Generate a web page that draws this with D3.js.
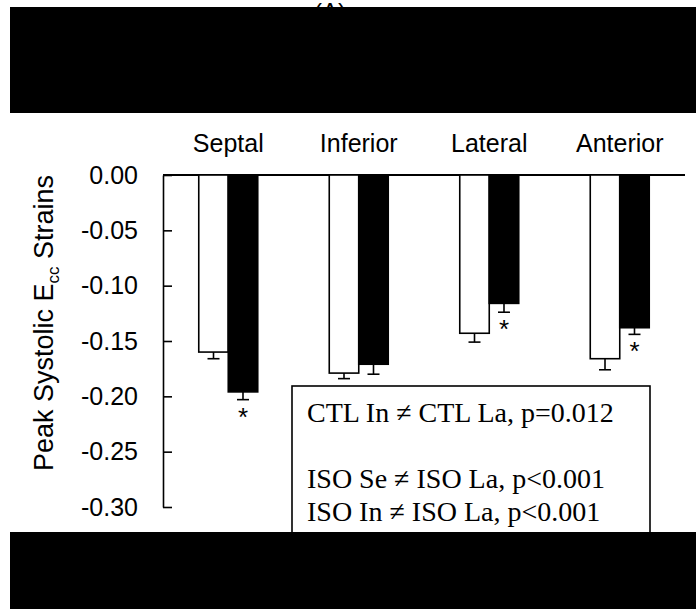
<!DOCTYPE html>
<html>
<head>
<meta charset="utf-8">
<script src="https://cdnjs.cloudflare.com/ajax/libs/d3/7.8.5/d3.min.js"></script>
<style>
  body { margin: 0; background: #fff; }
  svg { display: block; }
</style>
</head>
<body>
<div class="container"></div>
<script>
// regional peak systolic Ecc strains, CTL (white) vs ISO (black)
const regions = ["Septal", "Inferior", "Lateral", "Anterior"];
const ctlMeans = [-0.160, -0.179, -0.143, -0.166];
const ctlErrs = [0.006, 0.005, 0.008, 0.010];
const isoMeans = [-0.196, -0.171, -0.116, -0.138];
const isoErrs = [0.007, 0.009, 0.008, 0.006];
const isoStars = [true, false, true, true];
const yTicks = [0, -0.05, -0.10, -0.15, -0.20, -0.25, -0.30];
const notes = ["CTL In \u2260 CTL La, p=0.012", "", "ISO Se \u2260 ISO La, p<0.001", "ISO In \u2260 ISO La, p<0.001"];

let makeBarChart = function () {
  const w = 696;
  const h = 609;
  const padding = {left: 163, top: 175, right: 11, bottom: 102};

  const xScale = d3.scaleBand()
                   .domain(regions)
                   .range([padding.left, w - padding.right])
                   .padding(0);
  const yScale = d3.scaleLinear()
                   .domain([-0.30, 0])
                   .range([h - padding.bottom, padding.top]);
  const barW = xScale.bandwidth() * 0.226;

  const svg = d3.select(".container")
                .append("svg")
                .attr("width", w)
                .attr("height", h);

  // panel letter, mostly hidden under the top block
  svg.append("text")
     .attr("x", 330)
     .attr("y", 20)
     .attr("text-anchor", "middle")
     .style("font", "24px 'Liberation Sans', Arial, sans-serif")
     .text("(A)");

  const yAxis = d3.axisLeft(yScale)
                  .tickValues(yTicks)
                  .tickFormat(d3.format(".2f"))
                  .tickSizeInner(-9)
                  .tickSizeOuter(0)
                  .tickPadding(25);
  const gy = svg.append("g")
                .attr("transform", "translate(" + padding.left + ",0)") // y axis
                .call(yAxis);
  gy.selectAll("path, line").attr("stroke", "#000").attr("stroke-width", 1.6);
  gy.selectAll("text")
    .attr("fill", "#000")
    .style("font", "25px 'Liberation Sans', Arial, sans-serif")
    .text(d => d3.format(".2f")(d).replace("\u2212", "-"));

  // zero line across the top
  svg.append("line")
     .attr("x1", padding.left)
     .attr("x2", w - padding.right)
     .attr("y1", yScale(0))
     .attr("y2", yScale(0))
     .attr("stroke", "#000")
     .attr("stroke-width", 1.8);

  // category labels above the plot
  svg.selectAll(".cat")
     .data(regions)
     .enter()
     .append("text")
     .attr("class", "cat")
     .attr("x", d => xScale(d) + xScale.bandwidth() / 2)
     .attr("y", 152)
     .attr("text-anchor", "middle")
     .style("font", "25px 'Liberation Sans', Arial, sans-serif")
     .text(d => d);

  // y axis title
  const title = svg.append("text")
                   .attr("transform", "translate(53," + 323 + ") rotate(-90)")
                   .attr("text-anchor", "middle")
                   .style("font", "27px 'Liberation Sans', Arial, sans-serif");
  title.append("tspan").text("Peak Systolic E");
  title.append("tspan").attr("dy", 6).style("font-size", "17px").text("cc");
  title.append("tspan").attr("dy", -6).text(" Strains");

  const series = [
    {means: ctlMeans, errs: ctlErrs, fill: "#fff", off: -1},
    {means: isoMeans, errs: isoErrs, fill: "#000", off: 0}
  ];

  series.forEach(s => {
    const g = svg.append("g");
    const rows = regions.map((r, i) => ({r: r, v: s.means[i], e: s.errs[i], i: i}));
    const cx = d => xScale(d.r) + xScale.bandwidth() / 2 + s.off * barW + barW / 2;

    g.selectAll("line.err")
     .data(rows)
     .enter()
     .append("line")
     .attr("x1", cx)
     .attr("x2", cx)
     .attr("y1", d => yScale(d.v))
     .attr("y2", d => yScale(d.v - d.e))
     .attr("stroke", "#000")
     .attr("stroke-width", 1.6);
    g.selectAll("line.cap")
     .data(rows)
     .enter()
     .append("line")
     .attr("x1", d => cx(d) - 6)
     .attr("x2", d => cx(d) + 6)
     .attr("y1", d => yScale(d.v - d.e))
     .attr("y2", d => yScale(d.v - d.e))
     .attr("stroke", "#000")
     .attr("stroke-width", 1.6);

    g.selectAll("rect")
     .data(rows)
     .enter()
     .append("rect")
     .attr("x", d => cx(d) - barW / 2)
     .attr("y", yScale(0))
     .attr("width", barW)
     .attr("height", d => yScale(d.v) - yScale(0))
     .attr("fill", s.fill)
     .attr("stroke", "#000")
     .attr("stroke-width", 1.6);
  });

  // significance stars under the ISO bars
  svg.selectAll(".star")
     .data(regions.filter((r, i) => isoStars[i]))
     .enter()
     .append("text")
     .attr("class", "star")
     .attr("x", d => xScale(d) + xScale.bandwidth() / 2 + barW / 2)
     .attr("y", d => {
       const i = regions.indexOf(d);
       return yScale(isoMeans[i] - isoErrs[i]) + 26;
     })
     .attr("text-anchor", "middle")
     .style("font", "26px 'Liberation Sans', Arial, sans-serif")
     .text("*");

  // stats box
  svg.append("rect")
     .attr("x", 292)
     .attr("y", 386)
     .attr("width", 358)
     .attr("height", 190)
     .attr("fill", "#fff")
     .attr("stroke", "#000")
     .attr("stroke-width", 1.6);
  svg.selectAll(".note")
     .data(notes)
     .enter()
     .append("text")
     .attr("class", "note")
     .attr("x", 307)
     .attr("y", (d, i) => 422 + i * 33)
     .style("font", "28px 'Liberation Serif', 'Times New Roman', serif")
     .text(d => d);

  // blacked out areas
  svg.append("rect").attr("x", 10).attr("y", 7).attr("width", w - 10).attr("height", 106).attr("fill", "#000");
  svg.append("rect").attr("x", 10).attr("y", 532).attr("width", w - 10).attr("height", h - 532).attr("fill", "#000");
};

makeBarChart();
</script>
</body>
</html>
